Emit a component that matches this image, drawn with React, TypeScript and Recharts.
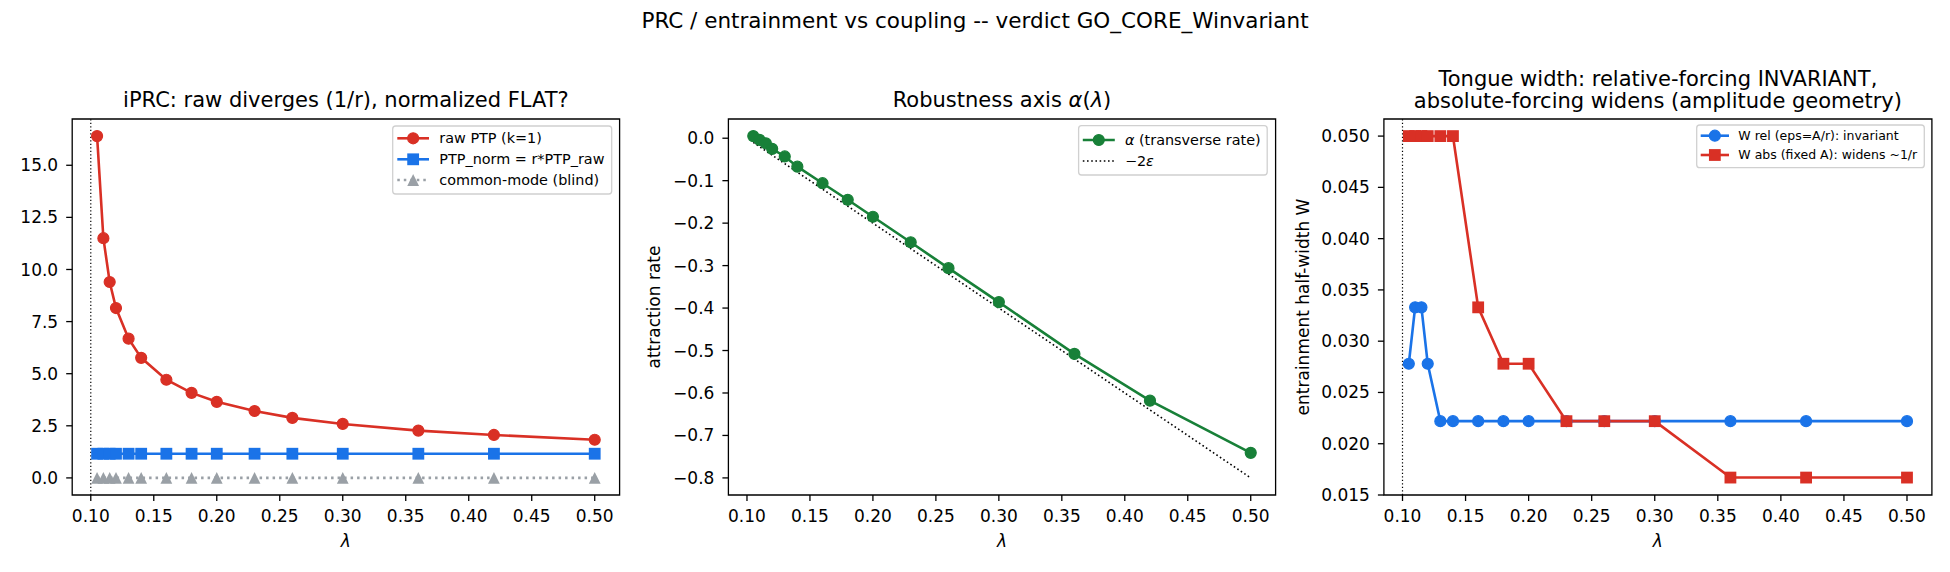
import React from 'react';
import { LineChart, Line, XAxis, YAxis, ReferenceLine, ReferenceArea } from 'recharts';

const FONT = '"DejaVu Sans", Verdana, sans-serif';

// coupling strength, shared by all three panels
const LAMBDA = [0.105, 0.11, 0.115, 0.12, 0.13, 0.14, 0.16, 0.18, 0.2, 0.23, 0.26, 0.3, 0.36, 0.42, 0.5];

// iPRC peak-to-peak
const PTP_RAW = [16.4, 11.5, 9.4, 8.15, 6.68, 5.76, 4.71, 4.08, 3.65, 3.21, 2.88, 2.59, 2.27, 2.06, 1.83];
const PTP_NORM = [1.16, 1.16, 1.16, 1.16, 1.16, 1.16, 1.16, 1.16, 1.16, 1.16, 1.16, 1.16, 1.16, 1.16, 1.16];
const PTP_COMMON = [0, 0, 0, 0, 0, 0, 0, 0, 0, 0, 0, 0, 0, 0, 0];

// transverse attraction rate vs the -2*eps reference
const ALPHA = [0.005, -0.004, -0.012, -0.025, -0.043, -0.067, -0.106, -0.145, -0.185, -0.245, -0.306, -0.386, -0.508, -0.618, -0.741];
const MINUS_TWO_EPS = [-0.01, -0.02, -0.03, -0.04, -0.06, -0.08, -0.12, -0.16, -0.2, -0.26, -0.32, -0.4, -0.52, -0.64, -0.8];

// entrainment tongue half-widths
const W_REL = [0.0278, 0.0333, 0.0333, 0.0278, 0.0222, 0.0222, 0.0222, 0.0222, 0.0222, 0.0222, 0.0222, 0.0222, 0.0222, 0.0222, 0.0222];
const W_ABS = [0.05, 0.05, 0.05, 0.05, 0.05, 0.05, 0.0333, 0.0278, 0.0278, 0.0222, 0.0222, 0.0222, 0.0167, 0.0167, 0.0167];

const X_TICKS = [0.1, 0.15, 0.2, 0.25, 0.3, 0.35, 0.4, 0.45, 0.5];
const PTP_TICKS = [0, 2.5, 5, 7.5, 10, 12.5, 15];
const ALPHA_TICKS = [0, -0.1, -0.2, -0.3, -0.4, -0.5, -0.6, -0.7, -0.8];
const W_TICKS = [0.015, 0.02, 0.025, 0.03, 0.035, 0.04, 0.045, 0.05];

const X_DOMAIN: [number, number] = [0.08525, 0.51975];
const PTP_DOMAIN: [number, number] = [-0.82, 17.22];
const ALPHA_DOMAIN: [number, number] = [-0.84025, 0.04525];
const W_DOMAIN: [number, number] = [0.015, 0.051667];

const RED = '#d93025';
const BLUE = '#1a73e8';
const GREEN = '#188038';
const GRAY = '#9aa0a6';

const CHART_H = 572;
const PLOT_TOP = 119;
const PLOT_BOTTOM = 495;
const X_AXIS_H = 40;
const LINE_W = 2.6;

type Marker = 'circle' | 'square' | 'triangle' | 'none';

function markerShape(kind: Marker, color: string, cx: number, cy: number, key?: string) {
  if (kind === 'circle') return <circle key={key} cx={cx} cy={cy} r={5.5} fill={color} stroke={color} strokeWidth={1.2} />;
  if (kind === 'square') return <rect key={key} x={cx - 5.9} y={cy - 5.9} width={11.8} height={11.8} fill={color} />;
  if (kind === 'triangle') {
    const s = 5.9;
    return <polygon key={key} points={`${cx},${cy - s} ${cx - s},${cy + s} ${cx + s},${cy + s}`} fill={color} />;
  }
  return null;
}

const dotFor = (kind: Marker, color: string) => (p: any) =>
  markerShape(kind, color, p.cx, p.cy, `m-${p.index}`) ?? <g key={`m-${p.index}`} />;

interface SeriesDef {
  key: string;
  label: string;
  color: string;
  marker: Marker;
  dash?: string;
  width?: number;
}

const PTP_SERIES: SeriesDef[] = [
  { key: 'raw', label: 'raw PTP (k=1)', color: RED, marker: 'circle' },
  { key: 'norm', label: 'PTP_norm = r*PTP_raw', color: BLUE, marker: 'square' },
  { key: 'common', label: 'common-mode (blind)', color: GRAY, marker: 'triangle', dash: '2.5 4' },
];
const ALPHA_SERIES: SeriesDef[] = [
  { key: 'alpha', label: 'α (transverse rate)', color: GREEN, marker: 'circle' },
  { key: 'ref', label: '−2ε', color: '#000', marker: 'none', dash: '1.6 2.6', width: 1.6 },
];
const W_SERIES: SeriesDef[] = [
  { key: 'rel', label: 'W rel (eps=A/r): invariant', color: BLUE, marker: 'circle' },
  { key: 'abs', label: 'W abs (fixed A): widens ~1/r', color: RED, marker: 'square' },
];

const tickStyle = { fill: '#000', fontSize: 17, fontFamily: FONT };
const tickLine = { stroke: '#000', strokeWidth: 1.3 };

interface PanelProps {
  left: number;
  width: number;
  plotLeft: number;
  plotWidth: number;
  yAxisWidth: number;
  data: any[];
  series: SeriesDef[];
  yDomain: [number, number];
  yTicks: number[];
  yFormat: (v: number) => string;
  vline?: boolean;
}

function Panel({ left, width, plotLeft, plotWidth, yAxisWidth, data, series, yDomain, yTicks, yFormat, vline }: PanelProps) {
  const marginLeft = plotLeft - left - yAxisWidth;
  const marginRight = width - (plotLeft - left) - plotWidth;
  return (
    <div style={{ position: 'absolute', left, top: 0 }}>
      <LineChart
        width={width}
        height={CHART_H}
        data={data}
        margin={{ top: PLOT_TOP, right: marginRight, bottom: CHART_H - PLOT_BOTTOM - X_AXIS_H, left: marginLeft }}
      >
        <XAxis
          type="number"
          dataKey="x"
          domain={X_DOMAIN}
          ticks={X_TICKS}
          allowDataOverflow
          interval={0}
          tickFormatter={(v: number) => v.toFixed(2)}
          axisLine={false}
          tickLine={tickLine}
          tickSize={6}
          tickMargin={9}
          height={X_AXIS_H}
          tick={tickStyle}
        />
        <YAxis
          type="number"
          domain={yDomain}
          ticks={yTicks}
          allowDataOverflow
          interval={0}
          tickFormatter={yFormat}
          axisLine={false}
          tickLine={tickLine}
          tickSize={6}
          tickMargin={8}
          width={yAxisWidth}
          tick={tickStyle}
        />
        {vline && <ReferenceLine x={0.1} stroke="#000" strokeWidth={1.2} strokeDasharray="1.3 2.2" />}
        {series.map((s) => (
          <Line
            key={s.key}
            type="linear"
            dataKey={s.key}
            stroke={s.color}
            strokeWidth={s.width ?? LINE_W}
            strokeDasharray={s.dash}
            dot={s.marker === 'none' ? false : dotFor(s.marker, s.color)}
            activeDot={false}
            isAnimationActive={false}
          />
        ))}
        <ReferenceArea
          x1={X_DOMAIN[0]}
          x2={X_DOMAIN[1]}
          y1={yDomain[0]}
          y2={yDomain[1]}
          fill="none"
          stroke="#000"
          strokeWidth={1.3}
          ifOverflow="visible"
        />
      </LineChart>
    </div>
  );
}

// Greek letters are set in italic, like math text
function MathText({ s }: { s: string }) {
  const parts = s.split(/([αελ])/);
  return (
    <>
      {parts.map((p, i) =>
        /^[αελ]$/.test(p) ? (
          <tspan key={i} fontStyle="italic">{p}</tspan>
        ) : (
          <tspan key={i}>{p}</tspan>
        ),
      )}
    </>
  );
}

interface LegendBox {
  x: number;
  y: number;
  w: number;
  h: number;
  rows: number[];
  handleX: number;
  handleLen: number;
  textX: number;
  fs: number;
}

function LegendPanel({ box, series }: { box: LegendBox; series: SeriesDef[] }) {
  return (
    <g>
      <rect x={box.x} y={box.y} width={box.w} height={box.h} rx={3} fill="#fff" fillOpacity={0.8} stroke="#d0d0d0" strokeWidth={1.3} />
      {series.map((s, i) => {
        const cy = box.rows[i];
        const mid = box.handleX + box.handleLen / 2;
        return (
          <g key={s.key}>
            <line
              x1={box.handleX}
              x2={box.handleX + box.handleLen}
              y1={cy}
              y2={cy}
              stroke={s.color}
              strokeWidth={s.width ?? LINE_W}
              strokeDasharray={s.dash}
            />
            {markerShape(s.marker, s.color, mid, cy)}
            <text x={box.textX} y={cy + 0.35 * box.fs} fontSize={box.fs} fontFamily={FONT} fill="#000">
              <MathText s={s.label} />
            </text>
          </g>
        );
      })}
    </g>
  );
}

const fmtSigned = (v: number) => (Math.abs(v) < 1e-9 ? '0.0' : v.toFixed(1).replace('-', '\u2212'));

export default function App() {
  const ptpRows = LAMBDA.map((x, i) => ({ x, raw: PTP_RAW[i], norm: PTP_NORM[i], common: PTP_COMMON[i] }));
  const alphaRows = LAMBDA.map((x, i) => ({ x, alpha: ALPHA[i], ref: MINUS_TWO_EPS[i] }));
  const wRows = LAMBDA.map((x, i) => ({ x, rel: W_REL[i], abs: W_ABS[i] }));

  const c1 = 72.2 + 547.4 / 2;
  const c2 = 728.4 + 547.2 / 2;
  const c3 = 1383.9 + 548 / 2;

  const titleProps = { fontSize: 21, fontFamily: FONT, fill: '#000', textAnchor: 'middle' as const };
  const labelProps = { fontSize: 17, fontFamily: FONT, fill: '#000', textAnchor: 'middle' as const };

  return (
    <div style={{ position: 'absolute', left: 0, top: 0, width: 1950, height: 572, background: '#fff', overflow: 'hidden' }}>
      <Panel
        left={0}
        width={640}
        plotLeft={72.2}
        plotWidth={547.4}
        yAxisWidth={60}
        data={ptpRows}
        series={PTP_SERIES}
        yDomain={PTP_DOMAIN}
        yTicks={PTP_TICKS}
        yFormat={(v) => v.toFixed(1)}
        vline
      />
      <Panel
        left={640}
        width={660}
        plotLeft={728.4}
        plotWidth={547.2}
        yAxisWidth={70}
        data={alphaRows}
        series={ALPHA_SERIES}
        yDomain={ALPHA_DOMAIN}
        yTicks={ALPHA_TICKS}
        yFormat={fmtSigned}
      />
      <Panel
        left={1300}
        width={650}
        plotLeft={1383.9}
        plotWidth={548}
        yAxisWidth={70}
        data={wRows}
        series={W_SERIES}
        yDomain={W_DOMAIN}
        yTicks={W_TICKS}
        yFormat={(v) => v.toFixed(3)}
        vline
      />
      <svg width={1950} height={572} style={{ position: 'absolute', left: 0, top: 0, pointerEvents: 'none' }}>
        <text x={975} y={28} {...titleProps} fontSize={21.5}>
          PRC / entrainment vs coupling -- verdict GO_CORE_Winvariant
        </text>

        <text x={c1} y={107.3} {...titleProps}>iPRC: raw diverges (1/r), normalized FLAT?</text>
        <text x={c2} y={107.3} {...titleProps}>
          <MathText s="Robustness axis α(λ)" />
        </text>
        <text x={c3} y={85.7} {...titleProps}>Tongue width: relative-forcing INVARIANT,</text>
        <text x={c3} y={107.7} {...titleProps}>absolute-forcing widens (amplitude geometry)</text>

        {[c1, c2, c3].map((cx) => (
          <text key={cx} x={cx} y={546.5} {...labelProps} fontStyle="italic">λ</text>
        ))}
        <text x={660} y={307} {...labelProps} transform="rotate(-90 660 307)">attraction rate</text>
        <text x={1309} y={307} {...labelProps} transform="rotate(-90 1309 307)">entrainment half-width W</text>

        <LegendPanel
          series={PTP_SERIES}
          box={{ x: 392.7, y: 126, w: 219, h: 68, rows: [138.3, 159.3, 180], handleX: 397.3, handleLen: 31.7, textX: 439.3, fs: 14.4 }}
        />
        <LegendPanel
          series={ALPHA_SERIES}
          box={{ x: 1078.6, y: 125.7, w: 188.6, h: 49.3, rows: [140, 161], handleX: 1082.8, handleLen: 32, textX: 1124.9, fs: 14.4 }}
        />
        <LegendPanel
          series={W_SERIES}
          box={{ x: 1696.7, y: 125, w: 227.6, h: 42.7, rows: [135.7, 155], handleX: 1700.7, handleLen: 28.3, textX: 1738.3, fs: 12.5 }}
        />
      </svg>
    </div>
  );
}
